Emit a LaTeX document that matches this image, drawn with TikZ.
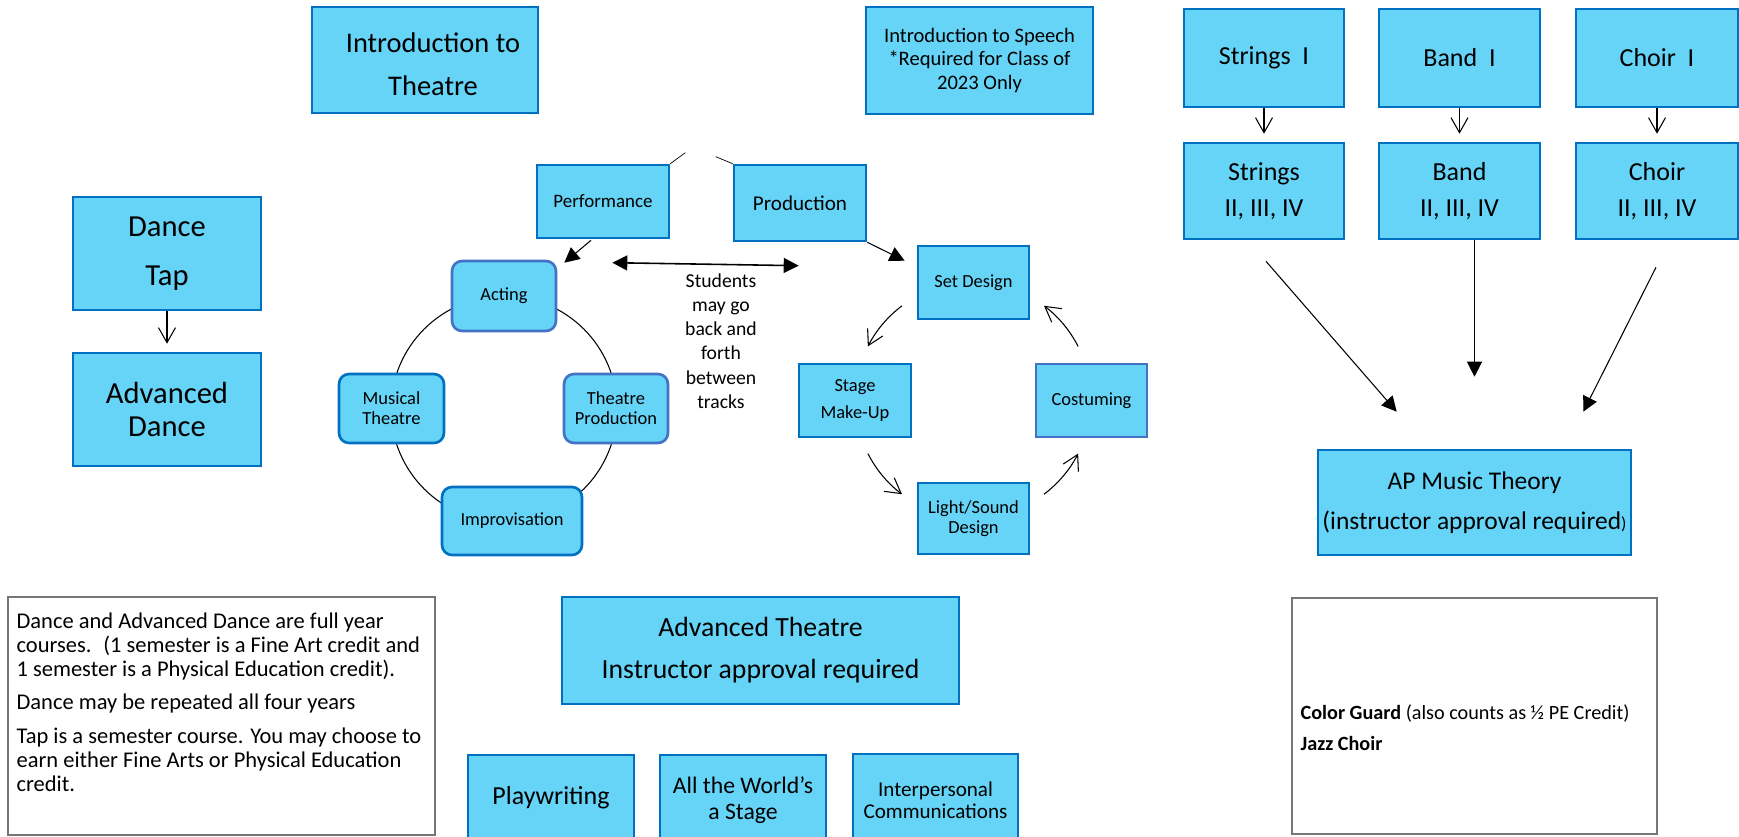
\documentclass[tikz,border=0pt]{standalone}
\usepackage{fontspec}
\setmainfont{Carlito}
\usetikzlibrary{arrows.meta, calc}
\definecolor{coursefill}{RGB}{102,212,247}
\definecolor{courseline}{RGB}{0,112,192}
\definecolor{softline}{RGB}{68,114,196}
\definecolor{notegray}{RGB}{118,118,118}
\newcommand{\fsz}[2]{\fontsize{#1}{#2}\selectfont}

\begin{document}
\begin{tikzpicture}[x=0.02cm, y=-0.02cm,
    course/.style={draw=courseline, fill=coursefill, line width=1.5pt, inner sep=0pt, align=center},
    ringcourse/.style={course, rounded corners=0.2cm},
    notebox/.style={draw=notegray, line width=0.9pt, inner sep=0pt},
    barb/.style={-{Straight Barb[length=0.3cm, width=0.34cm]}, line width=0.6pt},
    pointer/.style={-{Triangle[length=0.3cm, width=0.3cm]}, line width=0.6pt},
    pointers/.style={{Triangle[length=0.3cm, width=0.3cm]}-{Triangle[length=0.3cm, width=0.3cm]}, line width=0.9pt}]
    \useasboundingbox (0,0) rectangle (1739,836);

    % Dance
    \node[course, minimum width=3.76cm, minimum height=2.26cm, font=\fsz{17.4}{27.9}] (dance) at (167,253.5) {Dance\\Tap};
    \node[course, minimum width=3.76cm, minimum height=2.26cm, font=\fsz{17.4}{18.8}] (advdance) at (167,409.5) {Advanced\\Dance};
    \draw[barb, shorten >=0.16cm] (dance) -- (advdance);

    % Intro courses
    \node[course, minimum width=4.52cm, minimum height=2.12cm,
        label={[xshift=0.16cm, yshift=-0.09cm, align=center, font=\fsz{16.2}{24.5}]center:{Introduction to\\Theatre}}] (introth) at (425,60) {};
    \node[course, minimum width=4.54cm, minimum height=2.14cm, font=\fsz{11.7}{13.3}] (speech) at (979.5,60.5) {Introduction to Speech\\*Required for Class of\\2023 Only};

    % Tracks
    \node[course, minimum width=2.64cm, minimum height=1.46cm, font=\fsz{10.8}{12}] (perf) at (603,201.5) {Performance};
    \node[course, minimum width=2.64cm, minimum height=1.52cm, font=\fsz{12}{13}] (prod) at (800,203) {Production};
    \draw (perf.north east) -- ++(15,-11);
    \draw (prod.north west) -- ++(-17,-7);

    % Performance ring
    \coordinate (stagering) at (504,409);
    \draw[line width=0.6pt] (stagering) circle[radius=2.26cm];
    \node[ringcourse, draw=softline, minimum width=2.08cm, minimum height=1.40cm, font=\fsz{10.5}{11.4}] (acting) at (504,296) {Acting};
    \node[ringcourse, minimum width=2.10cm, minimum height=1.38cm, font=\fsz{10.5}{11.4}] (musical) at (391.5,408.5) {Musical\\Theatre};
    \node[ringcourse, draw=softline, minimum width=2.08cm, minimum height=1.38cm, font=\fsz{10.5}{11.4}] (theatreprod) at (616,408.5) {Theatre\\Production};
    \node[ringcourse, minimum width=2.80cm, minimum height=1.36cm, font=\fsz{10.5}{11.4}] (improv) at (512,521) {Improvisation};

    % Production ring
    \coordinate (crew) at (973,400);
    \node[course, minimum width=2.22cm, minimum height=1.46cm, font=\fsz{10.5}{11.4}] (setd) at (973.5,282.5) {Set Design};
    \node[course, minimum width=2.24cm, minimum height=1.46cm, font=\fsz{10.5}{15.4}] (stage) at (855,400.5) {Stage\\Make-Up};
    \node[course, draw=softline, minimum width=2.22cm, minimum height=1.46cm, font=\fsz{10.5}{11.4}] (costum) at (1091.5,400.5) {Costuming};
    \node[course, minimum width=2.22cm, minimum height=1.42cm, font=\fsz{10.5}{11.4}] (light) at (973.5,518.5) {Light/Sound\\Design};
    \foreach \a in {27,127,207,307}
        \draw[barb] ($(crew)+(\a:2.36cm)$) arc[start angle=\a, delta angle=26, radius=2.36cm];

    % Track arrows
    \draw[pointer] ($(perf.south)+(-12,1)$) -- ($(acting.north east)+(7,3)$);
    \draw[pointer] (prod.south east) -- ($(setd.north west)+(-12,16)$);
    \draw[pointers] ($(acting.north east)+(55,3)$) -- ($(setd.north west)+(-118,21)$);
    \node[font=\fsz{11.2}{13.8}, align=center, inner sep=0pt] (tracks) at (721,341) {Students\\may go\\back and\\forth\\between\\tracks};

    % Advanced theatre and electives
    \node[course, minimum width=7.94cm, minimum height=2.14cm, font=\fsz{15.8}{23.9}] (advtheatre) at (760.5,650.5) {Advanced Theatre\\Instructor approval required};
    \node[course, minimum width=3.32cm, minimum height=1.72cm, font=\fsz{14.8}{16}] (playwriting) at (551,798) {Playwriting};
    \node[course, minimum width=3.32cm, minimum height=1.80cm, font=\fsz{13.5}{14.8}] (allworld) at (743,800) {All the World’s\\a Stage};
    \node[course, minimum width=3.30cm, minimum height=1.84cm, font=\fsz{12}{12.5}] (interp) at (935.5,800) {Interpersonal\\Communications};

    % Music
    \node[course, minimum width=3.20cm, minimum height=1.96cm, font=\fsz{14.8}{16}] (stringsI) at (1264,58) {Strings~~I};
    \node[course, minimum width=3.22cm, minimum height=1.96cm, font=\fsz{14.8}{16}] (bandI) at (1459.5,58) {Band~~I};
    \node[course, minimum width=3.24cm, minimum height=1.96cm, font=\fsz{14.8}{16}] (choirI) at (1657,58) {Choir~~I};
    \node[course, minimum width=3.20cm, minimum height=1.92cm, font=\fsz{14.8}{20.5}] (stringsII) at (1264,191) {Strings\\II, III, IV};
    \node[course, minimum width=3.22cm, minimum height=1.92cm, font=\fsz{14.8}{20.5}] (bandII) at (1459.5,191) {Band\\II, III, IV};
    \node[course, minimum width=3.24cm, minimum height=1.92cm, font=\fsz{14.8}{20.5}] (choirII) at (1657,191) {Choir\\II, III, IV};
    \draw[barb, shorten >=0.16cm] (stringsI) -- (stringsII);
    \draw[barb, shorten >=0.16cm] (bandI) -- (bandII);
    \draw[barb, shorten >=0.16cm] (choirI) -- (choirII);

    \node[course, minimum width=6.26cm, minimum height=2.10cm, font=\fsz{14.5}{22.8}] (ap) at (1474.5,502.5) {AP Music Theory\\(instructor approval required{\fsz{10}{12})}};
    \draw[pointer] ($(stringsII.south)+(2,21)$) -- ($(ap.north west)+(80,-37)$);
    \draw[pointer, shorten >=1.44cm] (ap.north |- bandII.south) -- (ap.north);
    \draw[pointer] ($(choirII.south)+(-1,27)$) -- ($(ap.north east)+(-49,-37)$);

    % Notes
    \node[notebox, minimum width=8.54cm, minimum height=4.76cm] (notes) at (221.5,716) {};
    \node[anchor=north west, inner sep=0pt, align=left, font=\fsz{12.8}{13.7}] (notetext) at ($(notes.north west)+(9,16)$) {Dance and Advanced Dance are full year\\courses.~ (1 semester is a Fine Art credit and\\1 semester is a Physical Education credit).\\[5.2pt]Dance may be repeated all four years\\[5.6pt]Tap is a semester course. You may choose to\\earn either Fine Arts or Physical Education\\credit.};
    \node[notebox, minimum width=7.30cm, minimum height=4.72cm] (cgbox) at (1474.5,716) {};
    \node[anchor=north west, inner sep=0pt, align=left, font=\fsz{11.5}{17.6}] (cgtext) at ($(cgbox.north west)+(9,107)$) {\textbf{Color Guard} (also counts as ½ PE Credit)\\\textbf{Jazz Choir}};
\end{tikzpicture}
\end{document}
